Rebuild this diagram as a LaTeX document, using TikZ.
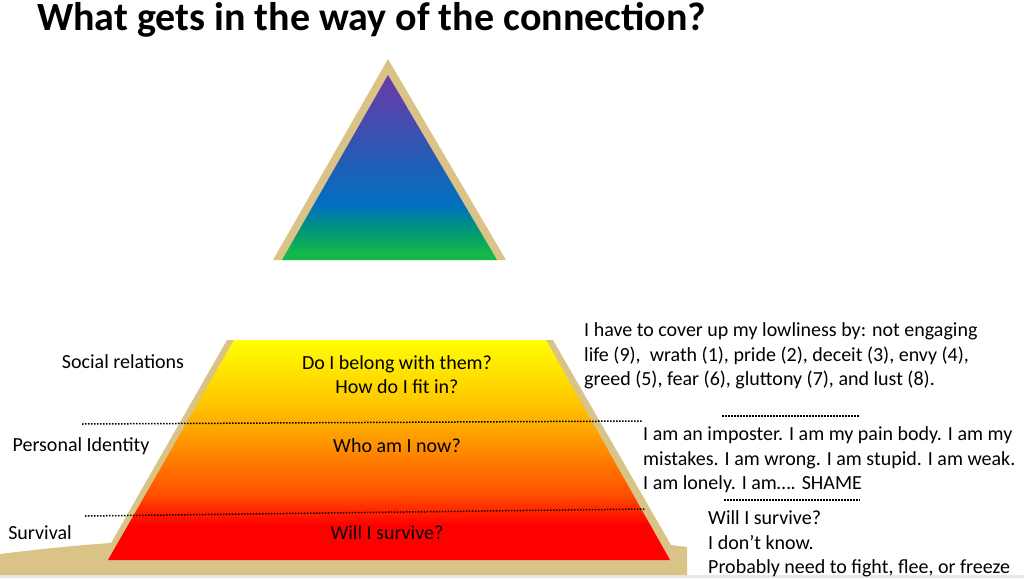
\documentclass[tikz,border=0pt]{standalone}
\usepackage{fontspec}
\setmainfont{Carlito}
\definecolor{ground}{RGB}{217,195,134}
\definecolor{slidegray}{RGB}{232,232,232}
\definecolor{apexpurple}{RGB}{108,58,168}
\definecolor{apexindigo}{RGB}{52,84,178}
\definecolor{apexblue}{RGB}{0,112,192}
\definecolor{apexteal}{RGB}{0,150,120}
\definecolor{apexgreen}{RGB}{20,184,72}
\definecolor{baseyellow}{RGB}{255,255,0}
\definecolor{baseamber}{RGB}{255,200,0}
\definecolor{baseorange}{RGB}{255,150,0}
\definecolor{basered}{RGB}{255,0,0}
\definecolor{baseflame}{RGB}{255,80,0}
%% shadings run bottom (0bp) to top (100bp), path fills 25bp..75bp
\pgfdeclareverticalshading{apexshade}{100bp}{color(0bp)=(apexgreen); color(27bp)=(apexgreen);
  color(33bp)=(apexteal); color(40bp)=(apexblue); color(57bp)=(apexindigo);
  color(75bp)=(apexpurple); color(100bp)=(apexpurple)}
\pgfdeclareverticalshading{baseshade}{100bp}{color(0bp)=(basered); color(33bp)=(basered);
  color(40bp)=(baseflame); color(52bp)=(baseorange); color(61bp)=(baseamber);
  color(75bp)=(baseyellow); color(100bp)=(baseyellow)}
\tikzset{
  titletext/.style={font=\fontsize{40}{44}\selectfont\bfseries, inner sep=0pt},
  leveltext/.style={font=\fontsize{20}{24}\selectfont, align=center, inner sep=0pt},
  sideblock/.style={font=\fontsize{20}{24.5}\selectfont, align=left, anchor=west, inner sep=0pt},
  levelline/.style={line width=1.5pt, dash pattern=on 1.5pt off 1.5pt},
}
\begin{document}
\begin{tikzpicture}[x=1pt, y=-1pt]
  \useasboundingbox (0,0) rectangle (1024,578);
  \fill[slidegray] (0,575) rectangle (1024,578);

  \node[titletext, anchor=base west] (title) at (37,31) {What gets in the way of the connection?};

  %%top triangle
  \fill[ground] (388,59) -- (506,260) -- (273,260) -- cycle;
  \shade[shading=apexshade] (388,75) -- (497,260) -- (282,260) -- cycle;

  %%ground and base frame
  \fill[ground] (0,554) .. controls (40,549) and (80,545) .. (111,543)
    -- (227,340) -- (553,340) -- (671,545) -- (687,547) -- (687,575) -- (0,575) -- cycle;
  \shade[shading=baseshade] (234,340) -- (546,340) -- (670,560) -- (108,560) -- cycle;

  %%level lines
  \draw[levelline] (82,424) -- (642,421);
  \draw[levelline] (85,516) -- (645,509);
  \draw[levelline] (722,416) -- (860,416);
  \draw[levelline] (724,500) -- (860,500);

  %%level labels
  \node[leveltext] (social) at (123,362) {Social relations};
  \node[leveltext] (identity) at (81,446) {Personal Identity};
  \node[leveltext] (survival) at (40,533) {Survival};

  \node[leveltext] (belong) at (397,375) {Do I belong with them?\\How do I fit in?};
  \node[leveltext] (whoami) at (397,446) {Who am I now?};
  \node[leveltext] (willsurvive) at (387,533) {Will I survive?};

  %%side texts
  \node[sideblock] (cover) at (584,356) {I have to cover up my lowliness by: not engaging\\
    life (9),\ \ wrath (1), pride (2), deceit (3), envy (4),\\
    greed (5), fear (6), gluttony (7), and lust (8).};
  \node[sideblock] (shame) at (643,460) {I am an imposter. I am my pain body. I am my\\
    mistakes. I am wrong. I am stupid. I am weak.\\
    I am lonely. I am…. SHAME};
  \node[sideblock] (freeze) at (708,544) {Will I survive?\\
    I don’t know.\\
    Probably need to fight, flee, or freeze};
\end{tikzpicture}
\end{document}
